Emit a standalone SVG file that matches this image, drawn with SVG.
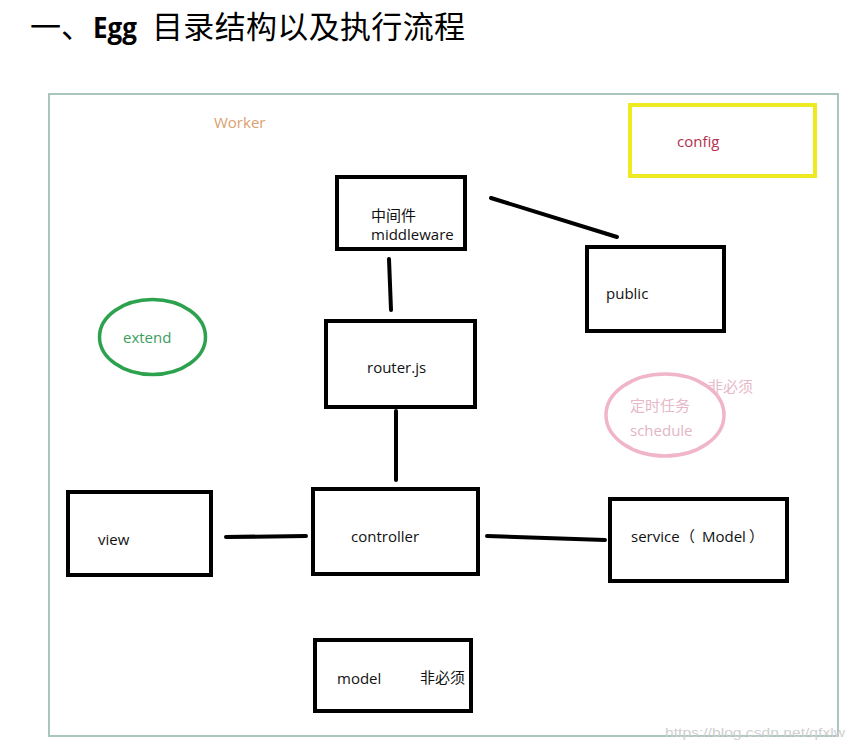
<svg xmlns="http://www.w3.org/2000/svg" width="855" height="752" viewBox="0 0 855 752">
<style>
.box{fill:#fff;stroke:#000;stroke-width:4}
.lbl{font-family:"Open Sans","Noto Sans CJK SC",sans-serif;font-size:15px;fill:#111}
.cjk{font-family:"Noto Sans CJK SC",sans-serif;font-size:15px;fill:#111}
.conn line{stroke:#000;stroke-width:4;stroke-linecap:round}
</style>
<rect width="855" height="752" fill="#fff"/>
<g id="title">
<text x="30" y="38" font-family="Noto Sans CJK SC,sans-serif" font-size="31" font-weight="400" fill="#000">一、</text>
<text x="93" y="38" font-family="Open Sans,sans-serif" font-size="29" font-weight="700" fill="#000" textLength="44" lengthAdjust="spacingAndGlyphs">Egg</text>
<text x="152" y="38" font-family="Noto Sans CJK SC,sans-serif" font-size="31" font-weight="400" fill="#000" textLength="313" lengthAdjust="spacing">目录结构以及执行流程</text>
</g>
<g id="worker">
<rect x="49" y="94" width="789" height="642" fill="none" stroke="#a9c6bc" stroke-width="2"/>
<text x="214" y="128" class="lbl" style="fill:#d9a070">Worker</text>
</g>
<g id="conns" class="conn">
<line x1="491" y1="198" x2="617" y2="237"/>
<line x1="389" y1="259" x2="391" y2="310"/>
<line x1="396" y1="411" x2="396" y2="480"/>
<line x1="226" y1="537" x2="306" y2="536"/>
<line x1="487" y1="536" x2="605" y2="540"/>
</g>
<g id="config">
<rect x="630" y="105" width="185" height="71" fill="#fff" stroke="#eeea22" stroke-width="4"/>
<text x="677" y="147" class="lbl" style="fill:#b3304e">config</text>
</g>
<g id="middleware">
<rect class="box" x="337" y="177" width="128" height="72"/>
<text x="371" y="221" class="cjk">中间件</text>
<text x="371" y="240" class="lbl">middleware</text>
</g>
<g id="public">
<rect class="box" x="587" y="247" width="137" height="84"/>
<text x="606" y="299" class="lbl">public</text>
</g>
<g id="extend">
<ellipse cx="152.5" cy="337" rx="53" ry="37.5" fill="none" stroke="#2ca24f" stroke-width="3.5"/>
<text x="123" y="343" class="lbl" style="fill:#3d9e5e">extend</text>
</g>
<g id="router">
<rect class="box" x="326" y="321" width="149" height="86"/>
<text x="367" y="373" class="lbl">router.js</text>
</g>
<g id="schedule">
<ellipse cx="665" cy="415" rx="59" ry="41" fill="none" stroke="#f1b5c9" stroke-width="3.5"/>
<text x="708" y="392" class="cjk" style="fill:#e6b8c8">非必须</text>
<text x="630" y="411" class="cjk" style="fill:#e6b8c8">定时任务</text>
<text x="630" y="436" class="lbl" style="fill:#e3b4c6">schedule</text>
</g>
<g id="view">
<rect class="box" x="68" y="492" width="143" height="83"/>
<text x="98" y="545" class="lbl">view</text>
</g>
<g id="controller">
<rect class="box" x="313" y="489" width="165" height="85"/>
<text x="351" y="542" class="lbl">controller</text>
</g>
<g id="service">
<rect class="box" x="610" y="499" width="177" height="82"/>
<text y="542" class="lbl"><tspan x="631">service</tspan><tspan x="680">（</tspan><tspan x="702">Model</tspan><tspan x="749">）</tspan></text>
</g>
<g id="model">
<rect class="box" x="315" y="640" width="156" height="71"/>
<text x="337" y="684" class="lbl">model</text>
<text x="420" y="683" class="cjk">非必须</text>
</g>
<g id="watermark">
<text x="665" y="737" font-family="Liberation Sans,sans-serif" font-size="13.5" fill="#cfcfcf" textLength="180" lengthAdjust="spacingAndGlyphs">https://blog.csdn.net/qfxlw</text>
</g>
</svg>
